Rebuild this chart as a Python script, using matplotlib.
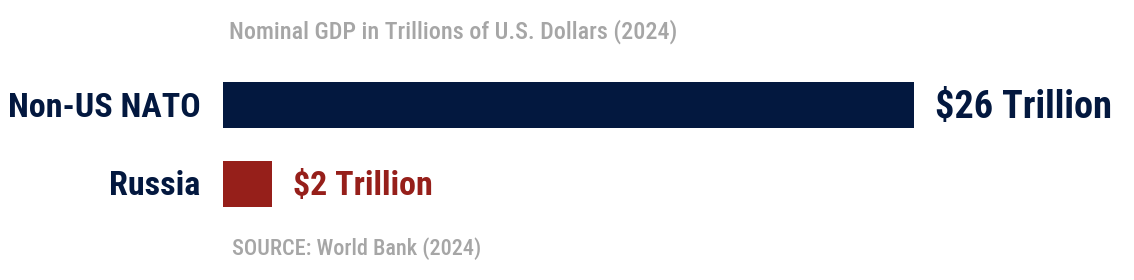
import matplotlib.pyplot as plt

# data
categories = ["Non-US NATO", "Russia"]
gdp = [26.0, 1.85]
value_labels = ["$26 Trillion", "$2 Trillion"]
colors = ["#03183f", "#961f1a"]
title = "Nominal GDP in Trillions of U.S. Dollars (2024)"
source = "SOURCE: World Bank (2024)"

plt.rcParams["font.family"] = ["Roboto Condensed", "DejaVu Sans"]

W, H = 1134, 280
fig = plt.figure(figsize=(W / 100, H / 100), dpi=100)

# axes spans the bars: x 223..914 px, y 82..207 px
ax = fig.add_axes([223 / W, (H - 207) / H, 691 / W, 125 / H])
ax.barh(range(len(gdp)), gdp, height=0.59, color=colors)
ax.set_xlim(0, gdp[0])
ax.set_ylim(1.295, -0.295)
ax.axis("off")

# category labels
for i, cat in enumerate(categories):
    ax.text(-0.85, i + 0.03, cat, ha="right", va="center", fontsize=24.5,
            fontweight="bold", color=colors[0], clip_on=False)

# value labels
sizes = [27.5, 24.5]
for i, (v, lab) in enumerate(zip(gdp, value_labels)):
    ax.text(v + 0.8, i + 0.03, lab, ha="left", va="center", fontsize=sizes[i],
            fontweight="bold", color=colors[i], clip_on=False)

fig.text(229 / W, 1 - 32 / H, title, ha="left", va="center",
         fontsize=17.4, fontweight="medium", color="#a6a6a6")
fig.text(232 / W, 1 - 249 / H, source, ha="left", va="center",
         fontsize=16, fontweight="medium", color="#a6a6a6")

fig.savefig("out.png", dpi=100, facecolor="white")
